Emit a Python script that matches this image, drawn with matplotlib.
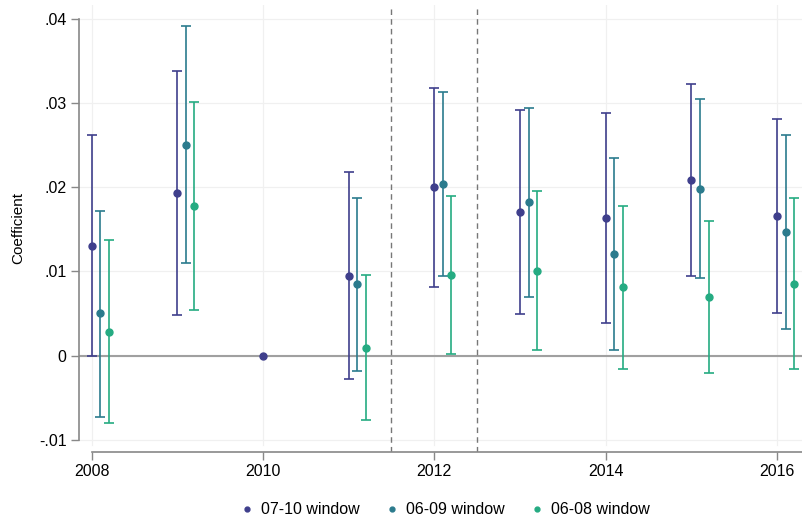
import matplotlib
matplotlib.use("Agg")
import matplotlib.pyplot as plt
import numpy as np

plt.rcParams['font.family'] = ['Liberation Sans', 'DejaVu Sans']

years = [2008, 2009, 2010, 2011, 2012, 2013, 2014, 2015, 2016]

# 07-10 window
s1_coef = [0.0130, 0.0193, 0.0, 0.0095, 0.0200, 0.0170, 0.0163, 0.0208, 0.0166]
s1_lo = [-0.0001, 0.0048, 0.0, -0.0028, 0.0082, 0.0049, 0.0039, 0.0094, 0.0051]
s1_hi = [0.0262, 0.0338, 0.0, 0.0218, 0.0318, 0.0292, 0.0288, 0.0323, 0.0281]

# 06-09 window (no 2010)
s2_years = [2008, 2009, 2011, 2012, 2013, 2014, 2015, 2016]
s2_coef = [0.0050, 0.0250, 0.0085, 0.0204, 0.0182, 0.0121, 0.0198, 0.0147]
s2_lo = [-0.0073, 0.0110, -0.0018, 0.0095, 0.0069, 0.0007, 0.0092, 0.0032]
s2_hi = [0.0172, 0.0392, 0.0187, 0.0313, 0.0294, 0.0235, 0.0305, 0.0262]

# 06-08 window (no 2010)
s3_years = [2008, 2009, 2011, 2012, 2013, 2014, 2015, 2016]
s3_coef = [0.0028, 0.0178, 0.0009, 0.0096, 0.0101, 0.0081, 0.0069, 0.0085]
s3_lo = [-0.0080, 0.0054, -0.0077, 0.0002, 0.0006, -0.0016, -0.0021, -0.0016]
s3_hi = [0.0137, 0.0301, 0.0096, 0.0190, 0.0196, 0.0178, 0.0160, 0.0187]

labels = ['07-10 window', '06-09 window', '06-08 window']
colors = ['#3f3f8c', '#2b7b8d', '#25ab82']

yticks = [-0.01, 0, 0.01, 0.02, 0.03, 0.04]
ytick_labels = ['-.01', '0', '.01', '.02', '.03', '.04']
xticks = [2008, 2010, 2012, 2014, 2016]

fig = plt.figure(figsize=(8.02, 5.17), dpi=100)
ax = fig.add_axes([79/802, 65/517, 1 - 79/802, 447/517])

ax.set_xlim(2007.854, 2016.29)
ax.set_ylim(-0.01146, 0.04164)

for t in yticks:
    ax.axhline(t, color='#f0f0f0', lw=0.9, zorder=0)
for t in xticks:
    ax.axvline(t, ymin=7/447, color='#f0f0f0', lw=0.9, zorder=0)
ax.axhline(0, color='#a0a0a0', lw=1.5, zorder=1)
for v in [2011.5, 2012.5]:
    ax.axvline(v, color='#777777', lw=1.0, ls=(0, (4, 3)), zorder=1)

def draw(xs, c, lo, hi, offset, col, lab):
    x = np.array(xs) + offset
    c = np.array(c); lo = np.array(lo); hi = np.array(hi)
    has = hi > lo
    ax.errorbar(x[has], c[has], yerr=[c[has] - lo[has], hi[has] - c[has]],
                fmt='none', ecolor=col, elinewidth=1.2, capsize=3.3,
                capthick=1.2, zorder=2)
    ax.plot(x, c, 'o', color=col, ms=5, zorder=3, label=lab, ls='none')

draw(years, s1_coef, s1_lo, s1_hi, 0.0, colors[0], labels[0])
draw(s2_years, s2_coef, s2_lo, s2_hi, 0.1, colors[1], labels[1])
draw(s3_years, s3_coef, s3_lo, s3_hi, 0.2, colors[2], labels[2])

ax.set_yticks(yticks)
ax.set_yticklabels(ytick_labels)
ax.set_xticks(xticks)
ax.tick_params(axis='both', colors='#888888', labelcolor='black',
               labelsize=11.5, length=6, width=1, pad=3)

for s in ['top', 'right']:
    ax.spines[s].set_visible(False)
ax.spines['left'].set_bounds(-0.01, 0.04)
ax.spines['bottom'].set_bounds(2008, 2016.29)
ax.spines['left'].set_color('#888888')
ax.spines['bottom'].set_color('#888888')
ax.spines['left'].set_linewidth(1.2)
ax.spines['bottom'].set_linewidth(1.2)

ax.set_ylabel('Coefficient', fontsize=11, labelpad=10)

fig.legend(loc='lower center', bbox_to_anchor=(0.553, -0.028), ncol=3,
           frameon=False, fontsize=11.5, markerscale=0.7, handletextpad=0.3,
           columnspacing=1.4, handlelength=1.2)

fig.savefig('out.png', dpi=100)
